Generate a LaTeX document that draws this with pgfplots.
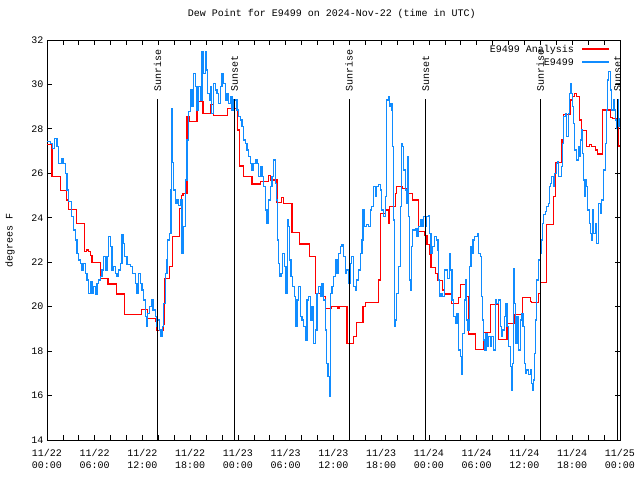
\documentclass[border=0pt]{standalone}
\usepackage{fontspec}
\setmainfont{Liberation Mono}
\usepackage{pgfplots}
\pgfplotsset{compat=1.18}
\definecolor{obsblue}{RGB}{16,140,255}
\definecolor{anared}{RGB}{255,0,0}
\begin{document}
\fontsize{10}{12}\selectfont
\begin{tikzpicture}
\useasboundingbox (-47pt,-40pt) rectangle (593pt,440pt);
\begin{axis}[
  at={(0pt,0pt)}, anchor=south west,
  scale only axis, width=573pt, height=400pt,
  xmin=0, xmax=72, ymin=14, ymax=32,
  clip mode=individual,
  xtick={0,6,...,72},
  xticklabels={{11/22\\00:00},{11/22\\06:00},{11/22\\12:00},{11/22\\18:00},{11/23\\00:00},{11/23\\06:00},{11/23\\12:00},{11/23\\18:00},{11/24\\00:00},{11/24\\06:00},{11/24\\12:00},{11/24\\18:00},{11/25\\00:00}},
  minor xtick={2,4,8,10,14,16,20,22,26,28,32,34,38,40,44,46,50,52,56,58,62,64,68,70},
  ytick={14,16,...,32},
  tick align=inside,
  major tick length=5pt, minor tick length=5pt,
  axis line style={line width=0.8pt},
  every tick/.style={black, line width=0.8pt},
  /pgf/number format/assume math mode=true,
  ticklabel style={font=\fontsize{10}{12}\selectfont},
  xticklabel style={align=center, yshift=-6pt},
  ylabel={degrees F},
  ylabel style={at={(axis description cs:-0.0646,0.5)}, anchor=center},
  title={Dew Point for E9499 on 2024-Nov-22 (time in UTC)},
  title style={at={(axis description cs:0.497,1.05)}, anchor=center},
]
\addplot[anared, line width=1.2pt, const plot mark left] coordinates {
(0,27.3) (0.63,25.87) (1.67,25.22) (2.5,24.8) (2.72,24.38) (3.68,23.75) (4.7,22.47) (4.95,22.55) (5.2,22.47) (5.44,22.3) (5.65,22.0) (6.7,21.28) (7.66,21.02) (8.7,20.57) (9.7,19.63) (11.0,19.66) (11.2,19.63) (11.85,19.88) (12.64,19.48) (13.6,19.33) (13.8,18.92) (14.65,19.2) (14.78,21.27) (15.4,21.8) (15.74,23.15) (16.66,24.4) (16.9,25.0) (17.08,25.1) (17.58,28.55) (17.92,28.33) (18.84,29.23) (19.6,28.7) (20.5,29.08) (20.93,28.6) (22.69,28.93) (23.9,27.95) (24.16,26.33) (24.7,25.85) (25.75,25.52) (26.8,25.63) (27.85,25.9) (28.06,25.7) (28.9,24.68) (29.5,24.9) (29.7,24.65) (30.78,23.33) (31.7,22.82) (32.96,22.25) (33.71,20.6) (34.63,20.45) (34.97,19.93) (35.68,20.0) (36.5,19.9) (36.7,20.0) (37.7,18.35) (38.5,18.65) (38.86,19.3) (39.7,20.0) (40.0,20.2) (41.7,21.2) (41.95,24.2) (42.5,24.35) (42.9,23.75) (43.05,24.5) (43.75,25.1) (43.96,25.4) (44.6,25.33) (45.3,25.1) (45.97,24.8) (46.7,23.38) (47.5,23.2) (47.74,22.78) (48.03,22.33) (48.24,21.77) (48.79,21.5) (49.08,21.17) (49.71,20.75) (49.96,20.57) (50.8,20.15) (51.72,20.4) (51.93,20.98) (52.55,20.45) (52.97,18.77) (53.81,18.08) (54.86,18.83) (55.7,20.08) (56.74,18.53) (57.79,19.25) (58.75,19.65) (59.7,20.42) (60.72,20.25) (60.9,20.2) (61.76,20.6) (61.97,21.08) (62.81,23.68) (63.65,24.95) (63.86,26.5) (64.7,27.5) (64.9,28.66) (65.82,29.3) (66.0,29.45) (66.3,29.6) (66.5,29.45) (66.87,28.4) (67.21,27.92) (67.84,27.2) (68.2,27.3) (68.4,27.2) (68.88,27.05) (69.17,26.87) (69.85,28.85) (70.77,28.52) (71.1,28.48) (71.6,28.25) (71.82,27.23) (72,27.23)
};
\addplot[obsblue, line width=1.2pt, const plot mark left] coordinates {
(0,27.43) (0.42,27.35) (0.7,27.1) (0.96,27.58) (1.26,27.2) (1.46,26.45) (1.88,26.68) (2.09,26.45) (2.3,26.0) (2.51,25.25) (2.72,24.73) (3.06,24.05) (3.35,23.45) (3.56,23.0) (3.77,22.4) (3.98,22.1) (4.19,21.95) (4.4,21.65) (4.61,21.95) (4.82,21.5) (5.02,21.2) (5.23,20.6) (5.44,21.13) (5.65,20.6) (5.86,20.9) (6.07,20.53) (6.28,21.05) (6.5,21.2) (6.7,21.35) (6.91,21.65) (7.12,22.25) (7.33,21.65) (7.54,22.25) (7.75,23.15) (7.96,22.7) (8.17,21.65) (8.38,21.8) (8.58,21.5) (8.79,21.35) (9.0,21.65) (9.21,21.95) (9.42,23.23) (9.63,22.85) (9.76,22.25) (10.05,21.88) (10.47,21.8) (10.76,21.5) (11.1,21.05) (11.31,20.6) (11.52,21.5) (11.72,21.05) (11.93,20.75) (12.14,20.3) (12.35,19.55) (12.47,19.1) (12.64,19.7) (12.9,20.0) (13.18,20.3) (13.31,19.85) (13.6,19.55) (13.73,19.1) (13.9,19.4) (14.15,18.95) (14.32,18.65) (14.52,19.1) (14.65,20.15) (14.86,21.5) (15.07,22.1) (15.15,23.0) (15.4,23.3) (15.57,25.25) (15.65,28.9) (15.75,26.5) (15.91,25.25) (16.12,24.65) (16.33,24.8) (16.54,24.57) (16.75,24.8) (16.96,22.4) (17.16,23.6) (17.37,25.7) (17.58,27.5) (17.79,28.78) (18.0,29.75) (18.21,29.0) (18.42,30.5) (18.63,29.9) (18.84,28.85) (19.05,29.9) (19.26,29.3) (19.47,31.47) (19.68,30.5) (19.89,31.47) (20.01,30.65) (20.18,29.6) (20.39,29.3) (20.6,29.9) (20.72,28.7) (20.93,30.05) (21.14,29.75) (21.35,29.6) (21.56,29.15) (21.77,29.9) (21.98,30.5) (22.19,30.05) (22.4,29.3) (22.61,29.6) (22.82,29.15) (23.03,29.45) (23.24,28.85) (23.45,29.3) (23.66,29.3) (23.87,28.85) (24.08,28.55) (24.3,28.4) (24.5,28.1) (24.7,27.5) (24.91,27.35) (25.12,27.05) (25.33,26.75) (25.54,26.45) (25.75,26.15) (25.96,26.45) (26.17,26.6) (26.38,26.45) (26.59,25.85) (26.8,26.3) (27.01,25.85) (27.22,25.4) (27.43,24.35) (27.64,23.75) (27.85,24.8) (28.06,25.4) (28.27,25.85) (28.48,26.6) (28.69,25.55) (28.81,24.8) (28.98,23.0) (29.1,21.95) (29.23,21.35) (29.4,21.5) (29.6,22.4) (29.81,21.8) (30.02,20.6) (30.23,23.9) (30.36,23.6) (30.49,22.1) (30.65,21.35) (30.86,20.9) (31.07,20.45) (31.2,19.1) (31.41,20.3) (31.62,20.9) (31.82,19.55) (32.03,19.4) (32.24,19.1) (32.45,18.5) (32.66,20.3) (32.87,20.45) (33.08,19.4) (33.29,20.0) (33.5,18.35) (33.71,18.95) (33.92,20.6) (34.13,20.9) (34.34,20.45) (34.55,21.05) (34.76,20.3) (34.97,18.95) (35.09,17.45) (35.3,16.85) (35.51,15.95) (35.6,18.2) (35.65,20.6) (35.8,20.9) (36.0,21.35) (36.22,22.1) (36.43,21.5) (36.64,22.4) (36.85,22.7) (37.06,22.78) (37.26,22.25) (37.47,21.5) (37.68,21.65) (37.89,21.05) (38.1,21.95) (38.31,22.25) (38.52,20.9) (38.73,20.75) (38.94,21.2) (39.15,21.65) (39.36,22.4) (39.57,23.0) (39.7,24.35) (39.86,23.6) (40.11,23.68) (40.4,23.6) (40.61,24.35) (40.82,24.5) (41.03,25.4) (41.24,24.95) (41.45,25.4) (41.66,25.48) (41.87,25.25) (42.08,24.35) (42.29,24.05) (42.5,24.95) (42.71,29.3) (42.92,29.45) (43.04,29.0) (43.21,29.15) (43.34,28.85) (43.46,27.2) (43.55,23.9) (43.67,19.1) (43.84,19.4) (43.96,20.6) (44.17,21.8) (44.38,24.5) (44.51,27.35) (44.68,27.2) (44.8,26.15) (45.01,25.25) (45.14,24.65) (45.31,26.75) (45.43,24.05) (45.56,21.2) (45.64,20.75) (45.77,22.7) (45.93,23.45) (46.27,23.53) (46.48,23.15) (46.69,23.6) (46.9,23.9) (47.11,23.6) (47.32,24.05) (47.52,23.6) (47.73,24.05) (47.94,24.12) (48.05,23.3) (48.24,22.4) (48.45,22.7) (48.7,23.15) (48.91,23.0) (49.12,22.55) (49.2,21.2) (49.33,20.45) (49.5,20.6) (49.71,20.45) (49.92,21.65) (50.13,21.65) (50.34,21.27) (50.54,22.4) (50.75,21.65) (50.88,20.3) (51.09,19.55) (51.3,19.25) (51.51,19.7) (51.72,18.05) (51.93,17.75) (52.05,16.93) (52.22,18.8) (52.43,20.3) (52.56,21.2) (52.76,19.4) (52.89,18.95) (53.06,21.8) (53.27,22.7) (53.39,22.4) (53.52,23.0) (53.73,23.15) (53.94,23.15) (54.1,23.3) (54.23,22.4) (54.44,22.25) (54.56,20.45) (54.73,19.4) (54.86,18.5) (54.98,18.05) (55.15,18.8) (55.28,18.2) (55.49,18.65) (55.7,18.2) (55.9,18.65) (56.11,18.05) (56.32,20.3) (56.53,20.15) (56.74,20.3) (56.95,19.1) (57.08,18.65) (57.25,18.95) (57.45,19.55) (57.58,20.15) (57.79,19.1) (58.0,18.2) (58.21,17.3) (58.42,16.25) (58.5,17.45) (58.63,21.72) (58.75,20.15) (58.84,18.35) (59.05,19.55) (59.26,18.05) (59.46,19.4) (59.67,19.7) (59.8,19.1) (60.0,17.45) (60.09,17.0) (60.3,17.15) (60.5,16.95) (60.72,17.15) (60.84,16.55) (60.97,16.25) (61.13,16.7) (61.26,17.9) (61.39,19.4) (61.55,21.2) (61.76,22.1) (61.97,22.4) (62.1,23.0) (62.27,23.75) (62.39,24.13) (62.6,24.28) (62.81,24.5) (63.02,24.65) (63.14,25.4) (63.31,25.55) (63.44,25.85) (63.65,25.4) (63.81,26.0) (63.98,26.45) (64.15,26.52) (64.28,25.85) (64.61,26.3) (64.78,27.35) (64.95,28.55) (65.11,28.7) (65.24,28.1) (65.32,27.65) (65.49,28.7) (65.66,29.6) (65.82,30.05) (65.95,29.6) (66.08,29.0) (66.16,28.25) (66.29,27.05) (66.5,26.6) (66.79,27.2) (66.91,26.75) (67.08,27.5) (67.17,27.95) (67.29,26.9) (67.42,25.7) (67.54,24.95) (67.71,25.7) (67.84,25.4) (67.96,24.35) (68.13,23.75) (68.25,23.3) (68.38,23.0) (68.55,24.35) (68.67,23.3) (68.88,23.75) (69.09,22.85) (69.3,24.65) (69.51,24.2) (69.72,24.8) (69.93,26.15) (70.14,27.35) (70.26,28.85) (70.43,30.2) (70.6,30.57) (70.77,29.75) (70.98,28.85) (71.19,29.3) (71.31,28.85) (71.48,28.4) (71.6,28.02) (71.73,29.3) (71.86,28.1) (72.0,28.48)
};
\draw[black, line width=0.8pt] (axis cs:13.89,14) -- (axis cs:13.89,29.35);
\draw[black, line width=0.8pt] (axis cs:23.56,14) -- (axis cs:23.56,29.35);
\draw[black, line width=0.8pt] (axis cs:37.96,14) -- (axis cs:37.96,29.35);
\draw[black, line width=0.8pt] (axis cs:47.6,14) -- (axis cs:47.6,29.35);
\draw[black, line width=0.8pt] (axis cs:61.99,14) -- (axis cs:61.99,29.35);
\draw[black, line width=0.8pt] (axis cs:71.7,14) -- (axis cs:71.7,29.35);
\node[rotate=90, anchor=west, inner sep=0pt] at (axis cs:13.89,29.67) {Sunrise};
\node[rotate=90, anchor=west, inner sep=0pt] at (axis cs:23.56,29.67) {Sunset};
\node[rotate=90, anchor=west, inner sep=0pt] at (axis cs:37.96,29.67) {Sunrise};
\node[rotate=90, anchor=west, inner sep=0pt] at (axis cs:47.6,29.67) {Sunset};
\node[rotate=90, anchor=west, inner sep=0pt] at (axis cs:61.99,29.67) {Sunrise};
\node[rotate=90, anchor=west, inner sep=0pt] at (axis cs:71.7,29.67) {Sunset};
\node[anchor=base east, inner sep=0pt] at (axis description cs:0.9197,0.96875) {E9499 Analysis};
\fill[anared] (axis description cs:0.9337,0.97575) rectangle (axis description cs:0.9808,0.97925);
\node[anchor=base east, inner sep=0pt] at (axis description cs:0.9197,0.93625) {E9499};
\fill[obsblue] (axis description cs:0.9337,0.94325) rectangle (axis description cs:0.9808,0.94675);
\end{axis}
\end{tikzpicture}
\end{document}
